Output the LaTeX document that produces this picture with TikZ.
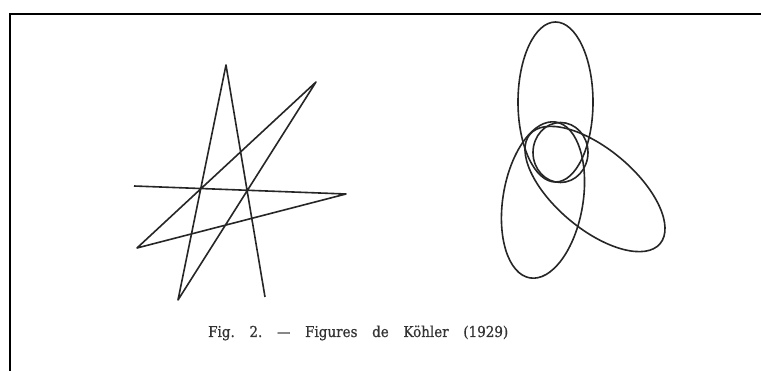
\documentclass[tikz,border=0pt]{standalone}
\usepackage{fontspec}
\setmainfont{DejaVu Serif Condensed}[FakeBold=0.6]
\begin{document}
\begin{tikzpicture}[x=1pt,y=-1pt,
  stroke/.style={line width=1.6pt, draw=black!85, line join=round},
  frameline/.style={line width=2.2pt, draw=black}]
\useasboundingbox (0,0) rectangle (761,371);
\fill[white] (0,0) rectangle (761,371);
% frame
\draw[frameline] (10,371) -- (10,14) -- (761,14);
% star polyline
\coordinate (p1) at (134,186);
\coordinate (p2) at (346,194);
\coordinate (p3) at (137,248);
\coordinate (p4) at (316,82);
\coordinate (p5) at (178,300);
\coordinate (p6) at (226,65);
\coordinate (p7) at (265,297);
\draw[stroke] (p1) -- (p2) -- (p3) -- (p4) -- (p5) -- (p6) -- (p7);
% ellipses
\coordinate (e1) at (555.5,102);
\coordinate (e2) at (543,200);
\coordinate (e3) at (595,189);
\coordinate (c0) at (560.5,152.5);
\draw[stroke] (e1) ellipse [x radius=37.5pt, y radius=80pt];
\draw[stroke, rotate around={-9.5:(e2)}] (e2) ellipse [x radius=40pt, y radius=79pt];
\draw[stroke, rotate around={-40:(e3)}] (e3) ellipse [x radius=85pt, y radius=40pt];
\draw[stroke] (c0) ellipse [x radius=27.5pt, y radius=30pt];
% caption
\node[anchor=base west, inner sep=0pt, font=\fontsize{15}{18}\selectfont, text=black!80] (cap) at (208,337)
  {\makebox[300pt][s]{Fig.\hspace{\fill}2.\hspace{\fill}---\hspace{\fill}Figures\hspace{\fill}de\hspace{\fill}Köhler\hspace{\fill}(1929)}};
\end{tikzpicture}
\end{document}
